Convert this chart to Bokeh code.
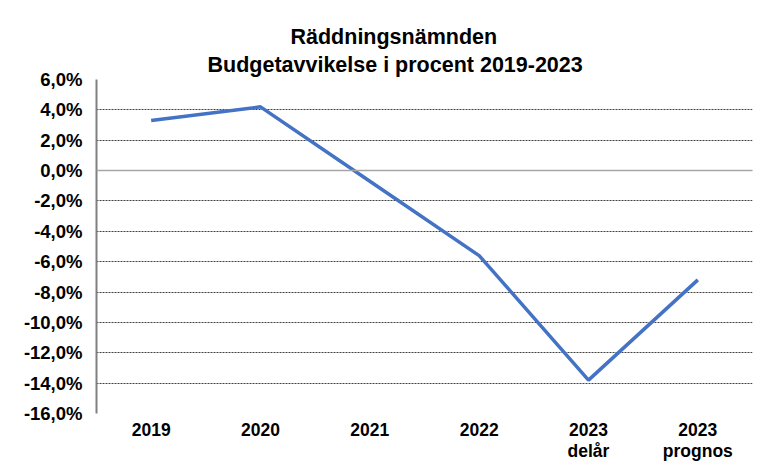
from bokeh.plotting import figure
from bokeh.models import FixedTicker, Span, Title
from bokeh.embed import file_html
from bokeh.resources import INLINE

categories = ["2019", "2020", "2021", "2022", "2023\ndelår", "2023\nprognos"]
values = [3.3, 4.2, -0.7, -5.6, -13.8, -7.2]
y_ticks = [-16, -14, -12, -10, -8, -6, -4, -2, 0, 2, 4, 6]

FONT = "Liberation Sans"

p = figure(x_range=categories, y_range=(-16, 6), width=766, height=466,
           output_backend="svg", toolbar_location=None,
           min_border_left=96, min_border_right=14, min_border_top=79, min_border_bottom=53)

p.line(x=categories, y=values, line_color="#4472C4", line_width=3.5)

# titles
t2 = Title(text="Budgetavvikelse i procent 2019-2023", align="left", offset=111,
           text_font=FONT, text_font_size="21.5px", text_font_style="bold", text_color="#000000",
           text_line_height=1.0, standoff=5)
t1 = Title(text="Räddningsnämnden", align="left", offset=194,
           text_font=FONT, text_font_size="21.5px", text_font_style="bold", text_color="#000000",
           text_line_height=1.0, standoff=0)
p.add_layout(t2, "above")
p.add_layout(t1, "above")
p.title.visible = False

# y axis
p.yaxis.ticker = FixedTicker(ticks=y_ticks)
p.yaxis.major_label_overrides = {v: (f"{v:.1f}%").replace(".", ",") for v in y_ticks}
p.yaxis.major_label_text_font = FONT
p.yaxis.major_label_text_font_size = "18.5px"
p.yaxis.major_label_text_font_style = "bold"
p.yaxis.major_label_text_color = "#000000"
p.yaxis.axis_line_color = "#808080"
p.yaxis.axis_line_width = 2
p.yaxis.major_tick_line_color = None
p.yaxis.minor_tick_line_color = None
p.yaxis.major_label_standoff = 8

# x axis
p.xaxis.major_label_text_font = FONT
p.xaxis.major_label_text_font_size = "17.5px"
p.xaxis.major_label_text_font_style = "bold"
p.xaxis.major_label_text_color = "#000000"
p.xaxis.major_label_text_line_height = 1.05
p.xaxis.axis_line_color = None
p.xaxis.major_tick_line_color = None
p.xaxis.minor_tick_line_color = None
p.xaxis.major_tick_out = 0
p.xaxis.major_tick_in = 0
p.xaxis.major_label_standoff = 6

# grid
p.xgrid.grid_line_color = None
p.ygrid.grid_line_color = "#404040"
p.ygrid.grid_line_dash = "2 1"
p.ygrid.grid_line_width = 1
p.add_layout(Span(location=0, dimension="width", line_color="#a6a6a6", line_width=1.5))

p.outline_line_color = None
p.background_fill_color = "white"
p.border_fill_color = "white"

open("out.html", "w").write(file_html(p, INLINE))
